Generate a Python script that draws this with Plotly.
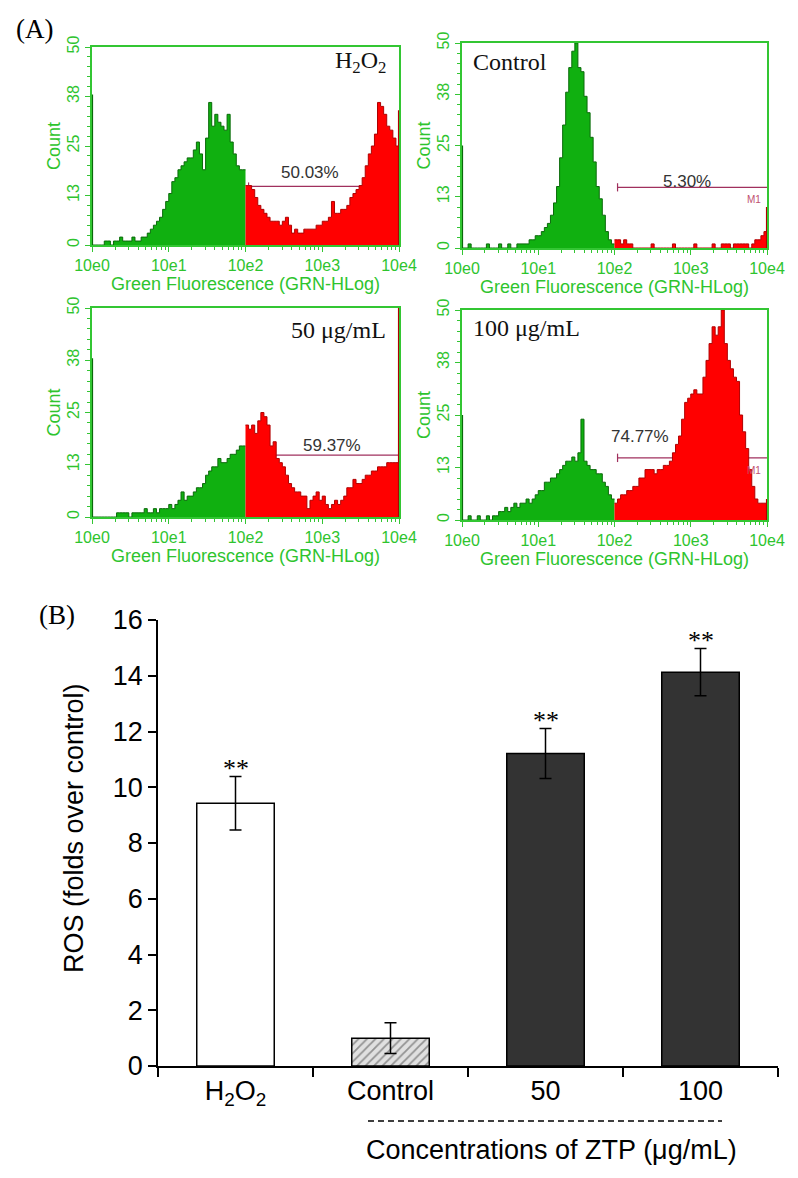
import plotly.graph_objects as go

W, H = 798, 1178

# ---- (A) flow cytometry histograms: counts per channel, 0.04 decade wide, 10e0..10e4
BIN_DEC = 0.04
GATE_BIN = 50  # channel that starts at 10e2 (M1 gate)

H2O2_COUNTS = [0, 0, 0, 0, 1, 1, 0, 1, 1, 2, 1, 1, 1, 2, 1, 1, 2, 2, 3, 4,
               5, 6, 7, 9, 11, 13, 16, 17, 19, 20, 21, 22, 22, 24, 26, 23, 19, 27, 36, 30,
               33, 31, 30, 29, 33, 26, 23, 20, 19, 19,
               15, 15, 14, 12, 10, 9, 8, 7, 6, 6, 6, 5, 6, 7, 5, 3, 4, 3, 3, 4,
               4, 4, 4, 5, 5, 6, 6, 7, 11, 8, 8, 9, 9, 10, 12, 13, 14, 15, 17, 20,
               23, 25, 28, 36, 35, 33, 30, 29, 27, 25]
CONTROL_COUNTS = [0, 0, 1, 0, 0, 0, 0, 0, 1, 0, 0, 0, 1, 0, 0, 1, 0, 0, 1, 1,
                  1, 1, 2, 2, 3, 3, 4, 5, 6, 8, 11, 15, 22, 30, 38, 44, 48, 50, 44, 43,
                  37, 33, 27, 21, 15, 12, 8, 4, 2, 1,
                  2, 2, 1, 2, 1, 1, 0, 0, 0, 0, 0, 0, 1, 0, 0, 0, 0, 0, 0, 1,
                  0, 0, 0, 0, 0, 0, 1, 0, 0, 0, 0, 0, 1, 0, 0, 1, 1, 1, 0, 1,
                  1, 1, 1, 1, 0, 1, 2, 2, 3, 4]
ZTP50_COUNTS = [0, 0, 0, 0, 0, 0, 0, 0, 1, 1, 1, 1, 0, 1, 1, 1, 1, 2, 1, 1,
                2, 1, 2, 2, 2, 3, 2, 3, 4, 6, 4, 5, 5, 6, 7, 7, 8, 10, 11, 12,
                12, 14, 13, 13, 14, 15, 15, 16, 17, 17,
                22, 21, 22, 20, 23, 25, 24, 22, 17, 18, 14, 13, 12, 10, 8, 7, 6, 6, 5, 5,
                2, 4, 5, 6, 4, 5, 3, 2, 3, 4, 3, 4, 5, 7, 7, 9, 8, 8, 9, 10,
                10, 11, 11, 12, 12, 12, 13, 13, 13, 13]
ZTP100_COUNTS = [0, 0, 1, 0, 0, 1, 0, 0, 1, 0, 1, 1, 2, 2, 3, 2, 3, 4, 3, 4,
                 4, 5, 4, 5, 6, 7, 7, 9, 9, 10, 10, 11, 12, 13, 14, 14, 15, 14, 16, 24,
                 14, 13, 12, 12, 11, 11, 9, 8, 6, 5,
                 4, 5, 6, 6, 7, 7, 8, 8, 10, 10, 12, 12, 12, 11, 12, 12, 13, 13, 14, 16,
                 18, 20, 24, 28, 29, 30, 31, 30, 30, 34, 38, 42, 46, 44, 46, 50, 42, 38, 36, 34,
                 33, 25, 21, 17, 12, 8, 5, 4, 4, 4]
# counts piled up in the first and last channel
LOW_EDGE = [38, 25, 38, 25]
HIGH_EDGE = [34, 10, 50, 5]

SAMPLE_LABELS = ["H<sub>2</sub>O<sub>2</sub>", "Control", "50 μg/mL", "100 μg/mL"]
GATE_PCT = ["50.03%", "5.30%", "59.37%", "74.77%"]
GATE_LEVEL = 14.8
GATE_START = 10 ** 2.04

Y_TICKS = [0, 12.5, 25, 37.5, 50]
Y_TICKTEXT = ["0", "13", "25", "38", "50"]
X_TICKS = [1, 10, 100, 1000, 10000]
X_TICKTEXT = ["10e0", "10e1", "10e2", "10e3", "10e4"]

# ---- (B) ROS bar chart
GROUPS = ["H<sub>2</sub>O<sub>2</sub>", "Control", "50", "100"]
ROS_MEAN = [9.43, 1.0, 11.21, 14.13]
ROS_SD = [0.96, 0.55, 0.9, 0.85]
SIG = ["**", "", "**", "**"]

GREEN = "#33c633"
GREEN_TXT = "#2ec42e"
FILL_G = "#10b010"
LINE_G = "#0a6a0a"
FILL_R = "#ff0000"
LINE_R = "#b00000"
GATE_COL = "#a0305e"
SERIF = "Liberation Serif, Times New Roman"


def fx(p):
    return p / W


def fy(p):
    return 1 - p / H


def note(text, x, y, size, color="black", family="Arial", angle=0, xanchor="center"):
    # text placed by page pixels
    return dict(text=text, x=fx(x), y=fy(y), xref="paper", yref="paper", showarrow=False,
                xanchor=xanchor, yanchor="middle", textangle=angle,
                font=dict(family=family, size=size, color=color))


fig = go.Figure()

# pixel boxes of the four histogram panels: left, right, top, bottom
boxes = [(92, 399, 47, 245), (462, 767, 43, 248), (92, 399, 308, 517), (462, 767, 310, 520)]
label_pos = [(388, 62, "right"), (471, 62, "left"), (388, 330, "right"), (471, 328, "left")]
pct_pos = [(2.84, 18.2), (2.95, 16.1), (3.13, 17.2), (2.33, 19.8)]
counts_all = [H2O2_COUNTS, CONTROL_COUNTS, ZTP50_COUNTS, ZTP100_COUNTS]
minor_x = [m * 10 ** d for d in range(4) for m in range(2, 10)]

annotations = []
for k in range(4):
    n = "" if k == 0 else str(k + 1)
    xr, yr = "x" + n, "y" + n
    left, right, top, bottom = boxes[k]
    counts = counts_all[k]

    # gate marker line (under the histogram)
    fig.add_trace(go.Scatter(x=[GATE_START, 10 ** 4], y=[GATE_LEVEL, GATE_LEVEL], mode="lines",
                             line=dict(color=GATE_COL, width=1.2), xaxis=xr, yaxis=yr, hoverinfo="skip"))
    fig.add_trace(go.Scatter(x=[GATE_START, GATE_START], y=[GATE_LEVEL - 1, GATE_LEVEL + 1], mode="lines",
                             line=dict(color=GATE_COL, width=1.2), xaxis=xr, yaxis=yr, hoverinfo="skip"))

    edges = [10 ** (i * BIN_DEC) for i in range(len(counts))] + [10 ** 4]
    g_x = edges[:GATE_BIN] + [edges[GATE_BIN]]
    g_y = counts[:GATE_BIN] + [counts[GATE_BIN - 1]]
    r_x = edges[GATE_BIN:]
    r_y = counts[GATE_BIN:] + [counts[-1]]
    fig.add_trace(go.Scatter(x=g_x, y=g_y, mode="lines", line_shape="hv", fill="tozeroy",
                             fillcolor=FILL_G, line=dict(color=LINE_G, width=1),
                             xaxis=xr, yaxis=yr, hoverinfo="skip"))
    fig.add_trace(go.Scatter(x=r_x, y=r_y, mode="lines", line_shape="hv", fill="tozeroy",
                             fillcolor=FILL_R, line=dict(color=LINE_R, width=1),
                             xaxis=xr, yaxis=yr, hoverinfo="skip"))
    fig.add_trace(go.Scatter(x=[1.003, 1.003], y=[0, LOW_EDGE[k]], mode="lines",
                             line=dict(color=LINE_G, width=2), xaxis=xr, yaxis=yr, hoverinfo="skip"))
    fig.add_trace(go.Scatter(x=[9980, 9980], y=[0, HIGH_EDGE[k]], mode="lines",
                             line=dict(color=LINE_R, width=2), xaxis=xr, yaxis=yr, hoverinfo="skip"))

    fig.update_layout(**{
        "xaxis" + n: dict(type="log", range=[0, 4], domain=[fx(left), fx(right)], anchor=yr,
                          automargin=False,
                          showline=True, linecolor=GREEN, linewidth=1.5, mirror=True,
                          ticks="outside", ticklen=5, tickcolor=GREEN,
                          tickvals=X_TICKS, ticktext=X_TICKTEXT,
                          tickfont=dict(family="Arial", size=16, color=GREEN_TXT),
                          showgrid=False, zeroline=False,
                          minor=dict(tickmode="array", tickvals=minor_x, ticks="outside",
                                     ticklen=3, tickcolor=GREEN, showgrid=False)),
        "yaxis" + n: dict(range=[0, 50], domain=[fy(bottom), fy(top)], anchor=xr,
                          automargin=False,
                          showline=True, linecolor=GREEN, linewidth=1.5, mirror=True,
                          ticks="outside", ticklen=5, tickcolor=GREEN,
                          tickvals=Y_TICKS, ticktext=Y_TICKTEXT, tickangle=-90,
                          tickfont=dict(family="Arial", size=16, color=GREEN_TXT),
                          showgrid=False, zeroline=False,
                          minor=dict(dtick=2.5, ticks="outside", ticklen=3,
                                     tickcolor=GREEN, showgrid=False)),
    })

    annotations.append(note("Green Fluorescence (GRN-HLog)", (left + right) / 2, bottom + 39, 18, GREEN_TXT))
    annotations.append(note("Count", left - 38, (top + bottom) / 2, 18, GREEN_TXT, angle=-90))
    lx, ly, al = label_pos[k]
    annotations.append(note(SAMPLE_LABELS[k], lx, ly, 24, "#111", SERIF, xanchor=al))
    px_, py_ = pct_pos[k]
    annotations.append(dict(text=GATE_PCT[k], x=px_, y=py_, xref=xr, yref=yr, showarrow=False,
                            xanchor="center", yanchor="middle",
                            font=dict(family="Arial", size=17, color="#333")))
    if k in (1, 3):
        annotations.append(dict(text="M1", x=3.83, y=GATE_LEVEL - 3, xref=xr, yref=yr, showarrow=False,
                                xanchor="center", yanchor="middle",
                                font=dict(family="Arial", size=10, color="#c05070")))

# ---- (B) bar chart
fig.add_trace(go.Bar(
    x=GROUPS, y=ROS_MEAN, width=0.5, xaxis="x5", yaxis="y5",
    marker=dict(color=["white", "#e0e0e0", "#333333", "#333333"],
                line=dict(color="black", width=1.5),
                pattern=dict(shape=["", "/", "", ""], fgcolor="#333", bgcolor="#e0e0e0",
                             size=6, solidity=0.3)),
    error_y=dict(type="data", array=ROS_SD, color="black", thickness=1.5, width=6),
    hoverinfo="skip",
))
for i, (m, s, t) in enumerate(zip(ROS_MEAN, ROS_SD, SIG)):
    if t:
        annotations.append(dict(text=t, x=i, y=m + s, xref="x5", yref="y5", xanchor="center",
                                yanchor="bottom", yshift=-9, showarrow=False,
                                font=dict(family=SERIF, size=26, color="black")))

fig.update_layout(
    xaxis5=dict(domain=[fx(158), fx(778)], anchor="y5", type="category", range=[-0.5, 3.5],
                automargin=False,
                tickson="boundaries", ticks="outside", ticklen=9, tickcolor="black", tickwidth=1.5,
                showline=True, linecolor="black", linewidth=1.5, showgrid=False,
                tickfont=dict(family="Arial", size=27, color="black")),
    yaxis5=dict(domain=[fy(1066), fy(620)], anchor="x5", range=[0, 16], dtick=2,
                automargin=False,
                ticks="outside", ticklen=8, tickcolor="black", tickwidth=1.5,
                showline=True, linecolor="black", linewidth=1.5, showgrid=False, zeroline=False,
                tickfont=dict(family="Arial", size=27, color="black")),
)

annotations += [
    note("ROS (folds over control)", 74, 828, 27, angle=-90),
    note("Concentrations of ZTP (μg/mL)", 551, 1150, 27),
    note("(A)", 34, 29, 27, family=SERIF),
    note("(B)", 57, 615, 27, family=SERIF),
]

fig.update_layout(
    width=W, height=H, margin=dict(l=0, r=0, t=0, b=0, autoexpand=False),
    paper_bgcolor="white", plot_bgcolor="white", showlegend=False,
    annotations=annotations,
    shapes=[dict(type="line", xref="paper", yref="paper", x0=fx(368), x1=fx(722),
                 y0=fy(1121), y1=fy(1121), line=dict(color="black", width=1.5, dash="6px,4px"))],
)

fig.write_html("out.html", config={"displayModeBar": False},
               post_script="document.body.style.margin='0';")
